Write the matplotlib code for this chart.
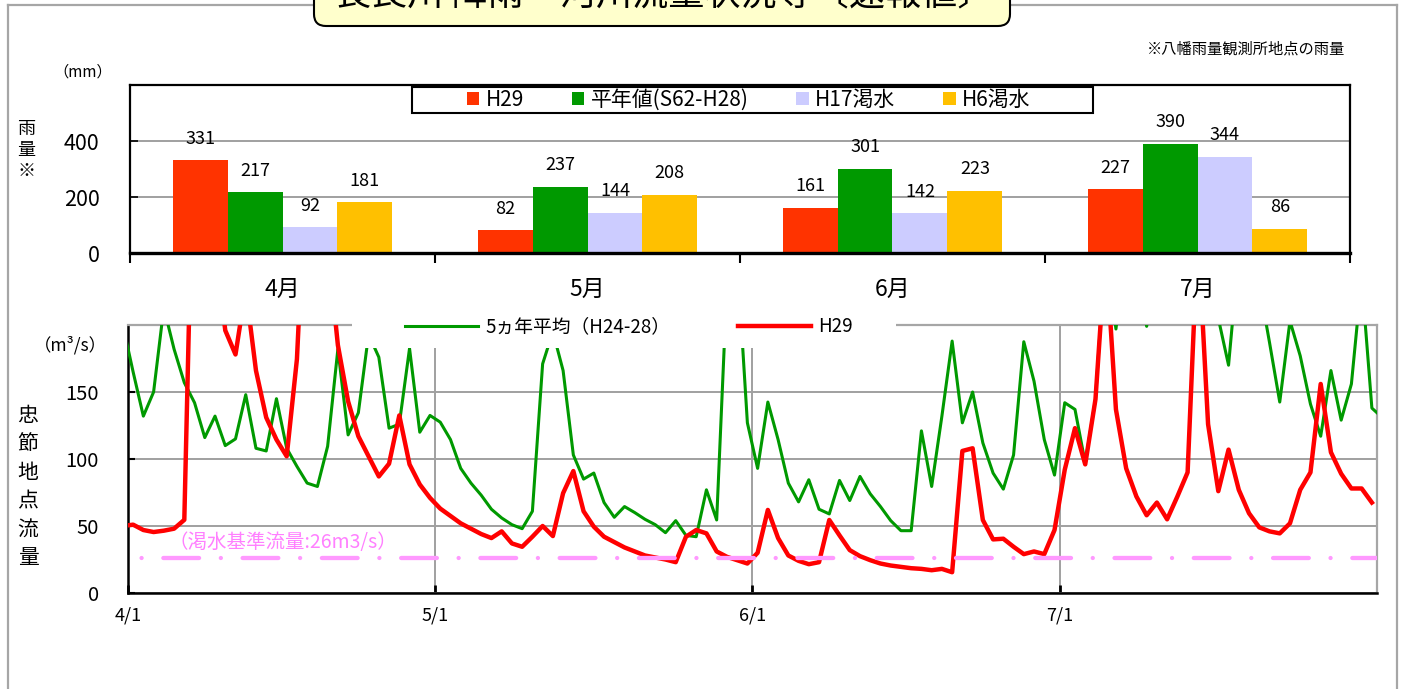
import numpy as np
import pandas as pd
import matplotlib
matplotlib.use("Agg")
import matplotlib.pyplot as plt
from matplotlib.patches import Rectangle, FancyBboxPatch
from matplotlib.lines import Line2D

plt.rcParams['font.family'] = ['Noto Sans CJK JP', 'DejaVu Sans']

# --- monthly rainfall (mm) ---
months = ['4月', '5月', '6月', '7月']
rain_h29 = [331, 82, 161, 227]
rain_avg = [217, 237, 301, 390]
rain_h17 = [92, 144, 142, 344]
rain_h6 = [181, 208, 223, 86]
rain_names = ['H29', '平年値(S62-H28)', 'H17渇水', 'H6渇水']
rain_colors = ['#FF3300', '#009900', '#CCCCFF', '#FFC000']

# --- daily flow at 忠節 (m3/s), from 3/31 ---
flow_avg = [200, 165, 132, 150, 213, 182, 157, 142, 116, 132, 110, 115, 148, 108, 106, 145,
            108, 94.5, 82, 79.5, 109.5, 182, 118, 134.5, 193, 176, 123, 126, 182.5, 120,
            132.5, 127.5, 114.5, 93, 82, 73, 62.5, 56, 51, 48, 61, 171, 195, 166, 103, 85,
            89.5, 67.5, 56.5, 64.5, 60, 55, 51, 45, 54, 43, 42, 77, 54.5, 230, 250, 127,
            93, 142.5, 114.5, 82, 68, 84.5, 62.5, 59, 84, 69, 87, 74, 64.5, 54, 46.5, 46.5,
            121, 79.5, 132, 188, 127, 150, 112, 89.5, 77.5, 103, 187.5, 158, 114.5, 88, 142,
            137, 97, 144.5, 259, 197, 260, 240, 199, 250, 260, 240, 260, 250, 230, 205, 170,
            254, 240, 230, 187, 142.5, 203, 177, 141, 117, 166, 129, 156, 235, 138, 131]
flow_h29 = [50, 51, 47, 45.5, 46.5, 48, 54.6, 380, 350, 260, 196, 178, 227, 166, 131, 114.5,
            102, 174.5, 333, 300, 260, 185, 143, 117, 102, 87, 96.5, 132.5, 96, 81, 71, 63,
            57.5, 52, 48, 44, 41, 46, 37, 34.5, 42, 50, 42.5, 74.5, 91, 61, 49.5, 42, 38, 34,
            31, 28, 26.5, 25, 23, 42, 47, 44.5, 31, 27, 24.5, 22, 30, 62, 41, 28, 24, 21.5,
            23, 54.5, 43, 32, 27.5, 24.5, 22, 20.5, 19.5, 18.5, 18, 17, 18, 15.5, 106, 108,
            54.5, 40, 40.5, 34.5, 29, 31, 29, 47, 92, 123, 96, 144.5, 257, 137, 93, 72, 58,
            67.5, 55, 72, 90, 270, 126, 76, 107, 77, 59.5, 49, 46, 44.5, 52, 77, 90, 156, 105,
            89, 78, 78, 67.5]
drought_flow = 26
tick_dates = ['2017-04-01', '2017-05-01', '2017-06-01', '2017-07-01']
tick_labels = ['4/1', '5/1', '6/1', '7/1']

W, H = 1401, 689
fig = plt.figure(figsize=(W / 100, H / 100), dpi=100)
fig.patch.set_facecolor('white')

# outer frame
for xs, ys in [([8 / W, 8 / W], [0, 1 - 5 / H]), ([1397 / W, 1397 / W], [0, 1 - 5 / H]),
               ([8 / W, 1397 / W], [1 - 5 / H, 1 - 5 / H])]:
    fig.add_artist(Line2D(xs, ys, color='#A6A6A6', lw=1.6, transform=fig.transFigure))

# title box (cut at top, as in the source)
fig.add_artist(FancyBboxPatch((3.14, (H - 26) / 100), 6.96, 0.8,
                              boxstyle='round,pad=0,rounding_size=0.12',
                              transform=fig.dpi_scale_trans, facecolor='#FFFFCC',
                              edgecolor='black', lw=1.5, zorder=5))
fig.text(664 / W, 1 + 5 / H, '長良川 降雨・河川流量状況等〔速報値〕', ha='center', va='center',
         fontsize=26, zorder=6)

# ---------------- top: rainfall bars ----------------
ax1 = fig.add_axes([130 / W, (H - 253) / H, 1220 / W, 168 / H])
x = np.arange(len(months))
bw = 0.18
series = [rain_h29, rain_avg, rain_h17, rain_h6]
for i, (vals, name, col) in enumerate(zip(series, rain_names, rain_colors)):
    bars = ax1.bar(x + (i - 1.5) * bw, vals, bw, color=col, label=name, zorder=2)
    ax1.bar_label(bars, padding=9, fontsize=13)
ax1.set_xlim(-0.5, 3.5)
ax1.set_ylim(0, 600)
ax1.set_yticks([0, 200, 400])
ax1.yaxis.grid(True, color='#A0A0A0', lw=1.4)
ax1.set_axisbelow(True)
ax1.set_xticks(x, months)
ax1.set_xticks([-0.5, 0.5, 1.5, 2.5, 3.5], minor=True)
ax1.tick_params(axis='x', which='major', length=0, pad=18, labelsize=16.5)
ax1.tick_params(axis='x', which='minor', length=7, width=1.5, direction='out')
ax1.tick_params(axis='y', direction='in', length=6, width=1.2, pad=22, labelsize=15.5)
for s in ax1.spines.values():
    s.set_linewidth(1.6)
ax1.spines['bottom'].set_linewidth(2.4)

# legend box
ax1.add_patch(Rectangle((0.231, 0.833), 0.558, 0.155, transform=ax1.transAxes,
                        facecolor='white', edgecolor='black', lw=1.5, zorder=3))
ax1.legend(loc='center', bbox_to_anchor=(0.507, 0.91), ncol=4, frameon=False, fontsize=15,
           handlelength=0.6, handleheight=0.6, handletextpad=0.3, columnspacing=2.3)

fig.text(83 / W, 1 - 72 / H, '（mm）', ha='center', va='center', fontsize=11)
fig.text(26 / W, 1 - 150 / H, '雨\n量\n※', ha='center', va='center', fontsize=13,
         linespacing=1.2)
fig.text(1345 / W, 1 - 49 / H, '※八幡雨量観測所地点の雨量', ha='right', va='center', fontsize=11)

# ---------------- bottom: river flow ----------------
ax2 = fig.add_axes([128 / W, (H - 593) / H, 1249 / W, 268 / H])
d_avg = pd.date_range('2017-03-31', periods=len(flow_avg)) + pd.Timedelta(hours=12)
d_h29 = pd.date_range('2017-03-31', periods=len(flow_h29)) + pd.Timedelta(hours=12)
ax2.plot(d_avg, flow_avg, color='#009900', lw=2.2, label='5ヵ年平均（H24-28）', zorder=3)
ax2.plot(d_h29, flow_h29, color='#FF0000', lw=3.2, label='H29', zorder=4,
         solid_joinstyle='round')
ax2.axhline(drought_flow, color='#FF99FF', lw=3.1, linestyle=(10.2, (8.3, 5.05, 0.01, 5.05)),
            dash_capstyle='round', zorder=5)
ax2.text(pd.Timestamp('2017-04-05'), 37.5, '（渇水基準流量:26m3/s）', color='#FF80FF',
         fontsize=14, ha='left', va='center', zorder=6)

ax2.set_xlim(pd.Timestamp('2017-04-01'), pd.Timestamp('2017-08-01'))
ax2.set_ylim(0, 200)
ax2.set_yticks([0, 50, 100, 150])
ax2.set_xticks(pd.to_datetime(tick_dates), tick_labels)
ax2.grid(True, color='#A0A0A0', lw=1.4)
ax2.set_axisbelow(True)
ax2.tick_params(axis='x', direction='in', length=6, width=2, pad=10, labelsize=13)
ax2.tick_params(axis='y', direction='in', length=5, width=1.5, pad=21, labelsize=14.5)
for k in ['top', 'right']:
    ax2.spines[k].set_color('#A6A6A6')
    ax2.spines[k].set_linewidth(1.6)
for k in ['left', 'bottom']:
    ax2.spines[k].set_linewidth(1.8)

# white legend area that hides the lines under it
ax2.add_patch(Rectangle((0.179, 0.914), 0.436, 0.12, transform=ax2.transAxes,
                        facecolor='white', edgecolor='none', zorder=7, clip_on=False))
leg = ax2.legend(loc='center', bbox_to_anchor=(0.401, 0.993), ncol=2, frameon=False,
                 fontsize=13.5, handlelength=3.9, handletextpad=0.4, columnspacing=3.6)
leg.set_zorder(8)

fig.text(70 / W, 1 - 345 / H, '（m³/s）', ha='center', va='center', fontsize=12.5)
fig.text(28 / W, 1 - 487 / H, '\n'.join('忠節地点流量'), ha='center', va='center',
         fontsize=15, linespacing=1.38)

fig.savefig('out.png', dpi=100, facecolor='white')
